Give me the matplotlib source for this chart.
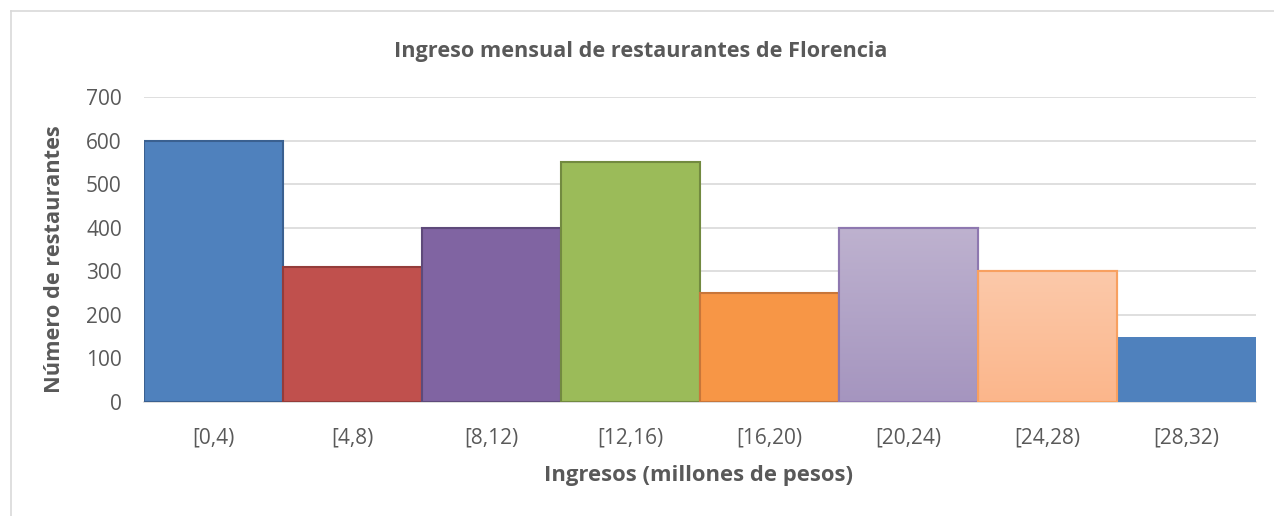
import matplotlib
matplotlib.use("Agg")
import matplotlib.pyplot as plt
import numpy as np
from matplotlib.lines import Line2D
from matplotlib.colors import LinearSegmentedColormap

categories = ["[0,4)", "[4,8)", "[8,12)", "[12,16)", "[16,20)", "[20,24)", "[24,28)", "[28,32)"]
values = [600, 310, 400, 550, 250, 400, 300, 150]
title = "Ingreso mensual de restaurantes de Florencia"
xlabel = "Ingresos (millones de pesos)"
ylabel = "Número de restaurantes"

# fill colours: (top, bottom) for gradient; edge colour
fills = [("#4F81BD", "#4F81BD"), ("#C0504D", "#C0504D"), ("#8064A2", "#8064A2"),
         ("#9BBB59", "#9BBB59"), ("#F79646", "#F79646"), ("#BEB2CF", "#A595BF"),
         ("#FCC9AA", "#FBB68B"), ("#4F81BD", "#4F81BD")]
edges = ["#3A6090", "#943C3A", "#5E4A7A", "#728A40", "#C8763A", "#8E78B0", "#F8A060", "none"]

plt.rcParams['font.family'] = ['Open Sans', 'DejaVu Sans']
txt = "#595959"

fig = plt.figure(figsize=(12.74, 5.16), dpi=100)
ax = fig.add_axes([144/1274, 1-402/516, (1256-144)/1274, (402-97)/516])

x = np.arange(len(categories))
bars = ax.bar(x, values, width=1.0, align='center', zorder=3)
for b, (top, bot), ec in zip(bars, fills, edges):
    b.set_facecolor(top)
    if ec == "none":
        b.set_edgecolor(top)
        b.set_linewidth(0)
    else:
        b.set_edgecolor(ec)
        b.set_linewidth(1.5)
    if top != bot:
        cmap = LinearSegmentedColormap.from_list("g", [bot, top])
        grad = np.linspace(0, 1, 256).reshape(-1, 1)
        bx, by = b.get_x(), b.get_y()
        im = ax.imshow(grad, cmap=cmap, aspect='auto', origin='lower',
                       extent=[bx, bx + b.get_width(), by, by + b.get_height()],
                       zorder=3.5, interpolation='bicubic')
        im.set_clip_path(b)
        ax.bar(b.get_x() + b.get_width()/2, b.get_height(), width=b.get_width(),
               facecolor='none', edgecolor=ec, linewidth=1.5, zorder=4)

ax.set_xlim(-0.5, len(categories) - 0.5)
ax.set_ylim(0, 700)
ax.set_yticks(np.arange(0, 701, 100))
ax.set_xticks(x)
ax.set_xticklabels(categories)
ax.yaxis.grid(True, color="#D9D9D9", linewidth=1.2, zorder=0)
ax.set_axisbelow(True)
for s in ["top", "right", "left"]:
    ax.spines[s].set_visible(False)
ax.spines["bottom"].set_color("#D9D9D9")
ax.spines["bottom"].set_linewidth(1.2)
ax.tick_params(axis='both', length=0, labelsize=15, labelcolor=txt)
ax.tick_params(axis='x', pad=18.5)
ax.tick_params(axis='y', pad=16)

fig.text(641/1274, 1-52/516, title, ha='center', va='center', fontsize=15.6,
         fontweight='bold', color=txt)
fig.text(699/1274, 1-475/516, xlabel, ha='center', va='center', fontsize=15.8,
         fontweight='bold', color=txt)
fig.text(55/1274, 1-259/516, ylabel, ha='center', va='center', fontsize=15.7,
         fontweight='bold', color=txt, rotation=90)

# chart frame (left and top edges)
fig.add_artist(Line2D([10.5/1274, 10.5/1274], [0, 1-10.5/516], transform=fig.transFigure,
                      color="#D9D9D9", linewidth=1.2))
fig.add_artist(Line2D([10.5/1274, 1], [1-10.5/516, 1-10.5/516], transform=fig.transFigure,
                      color="#D9D9D9", linewidth=1.2))

fig.savefig("out.png", dpi=100, facecolor="white")
